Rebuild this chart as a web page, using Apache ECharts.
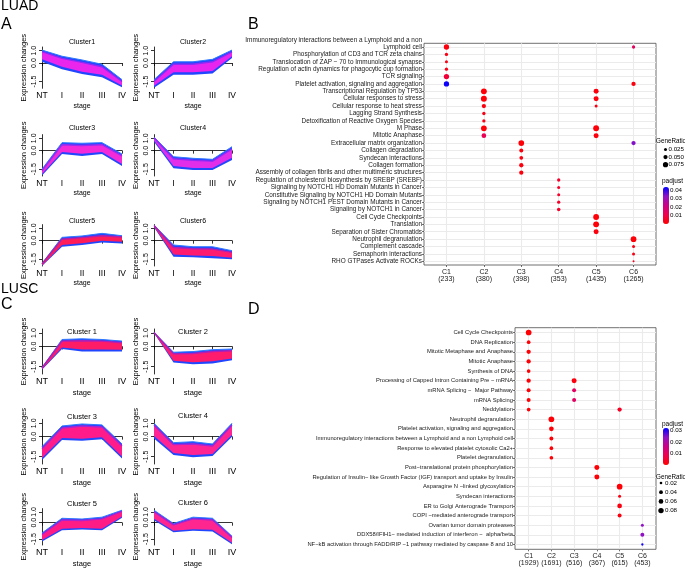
<!DOCTYPE html>
<html><head><meta charset="utf-8">
<script src="https://cdn.jsdelivr.net/npm/echarts@6/dist/echarts.min.js"></script>
<style>html,body{margin:0;padding:0;background:#fff}#c{width:685px;height:569px}</style>
</head><body><div id="c"></div>
<script>
// ---------- DATA ----------
const stages = ['NT', 'I', 'II', 'III', 'IV'];
const luadTitles = ['Cluster1', 'Cluster2', 'Cluster3', 'Cluster4', 'Cluster5', 'Cluster6'];
const luscTitles = ['Cluster 1', 'Cluster 2', 'Cluster 3', 'Cluster 4', 'Cluster 5', 'Cluster 6'];
const yTicks = [-1.5, 0, 1];

// LUAD envelopes (outer = full spread, inner = dense core)
const luadOuterHi = [
  [1.05, 0.55, 0.25, -0.1, -1.35],
  [-1.35, 0.1, 0.1, 0.3, 1.05],
  [-1.5, 0.65, 0.6, 0.65, -0.27],
  [1.1, -0.49, -0.62, -0.7, 0.32],
  [-1.84, 0.27, 0.38, 0.59, 0.4],
  [1.27, -0.35, -0.49, -0.49, -0.81]
];
const luadOuterLo = [
  [0.1, -0.5, -0.9, -1.15, -1.97],
  [-2.0, -0.95, -0.95, -0.85, 0.4],
  [-2.0, -0.27, -0.43, -0.27, -1.24],
  [0.73, -1.43, -1.57, -1.57, -0.76],
  [-2.05, -0.49, -0.35, -0.14, -0.22],
  [1.08, -1.3, -1.35, -1.43, -1.51]
];
const luadInnerHi = [
  [0.92, 0.38, 0.05, -0.3, -1.5],
  [-1.5, -0.1, -0.1, 0.1, 0.9],
  [-1.62, 0.48, 0.42, 0.48, -0.42],
  [1.04, -0.65, -0.78, -0.85, 0.15],
  [-1.88, 0.12, 0.25, 0.4, 0.3],
  [1.23, -0.55, -0.65, -0.68, -0.95]
];
const luadInnerLo = [
  [0.3, -0.3, -0.7, -0.95, -1.82],
  [-1.85, -0.75, -0.75, -0.65, 0.55],
  [-1.88, -0.1, -0.25, -0.1, -1.08],
  [0.82, -1.25, -1.4, -1.4, -0.58],
  [-2.0, -0.35, -0.2, 0.0, -0.08],
  [1.12, -1.12, -1.2, -1.25, -1.38]
];
// LUSC envelopes
const luscOuterHi = [
  [-1.57, 0.52, 0.57, 0.52, 0.4],
  [1.05, -0.43, -0.38, -0.24, -0.19],
  [-0.75, 0.8, 0.95, 0.88, -0.55],
  [1.0, -0.45, -0.38, -0.55, 1.0],
  [-0.95, 0.41, 0.34, 0.51, 1.15],
  [1.15, -0.07, 0.51, 0.41, -1.24]
];
const luscOuterLo = [
  [-1.74, -0.19, -0.38, -0.38, -0.38],
  [1.0, -1.19, -1.33, -1.26, -1.02],
  [-1.75, -0.25, -0.3, -0.2, -1.63],
  [-0.13, -1.38, -1.55, -1.45, 0.0],
  [-1.73, -0.7, -0.63, -0.7, 0.46],
  [0.22, -0.88, -0.75, -0.8, -1.97]
];
const luscInnerHi = [
  [-1.6, 0.4, 0.42, 0.4, 0.28],
  [1.04, -0.55, -0.52, -0.38, -0.32],
  [-0.9, 0.65, 0.8, 0.72, -0.7],
  [0.85, -0.6, -0.55, -0.7, 0.85],
  [-1.08, 0.25, 0.2, 0.35, 1.05],
  [1.0, -0.2, 0.35, 0.25, -1.36]
];
const luscInnerLo = [
  [-1.7, -0.07, -0.22, -0.22, -0.25],
  [1.01, -1.07, -1.18, -1.1, -0.9],
  [-1.6, -0.1, -0.15, -0.05, -1.48],
  [0.05, -1.22, -1.38, -1.3, 0.15],
  [-1.6, -0.55, -0.48, -0.55, 0.58],
  [0.36, -0.75, -0.6, -0.65, -1.85]
];

// Panel B (LUAD enrichment)
const bTerms = [
  'Immunoregulatory interactions between a Lymphoid and a non\nLymphoid cell\n',
  'Phosphorylation of CD3 and TCR zeta chains',
  'Translocation of ZAP − 70 to Immunological synapse',
  'Regulation of actin dynamics for phagocytic cup formation',
  'TCR signaling',
  'Platelet activation, signaling and aggregation',
  'Transcriptional Regulation by TP53',
  'Cellular responses to stress',
  'Cellular response to heat stress',
  'Lagging Strand Synthesis',
  'Detoxification of Reactive Oxygen Species',
  'M Phase',
  'Mitotic Anaphase',
  'Extracellular matrix organization',
  'Collagen degradation',
  'Syndecan interactions',
  'Collagen formation',
  'Assembly of collagen fibrils and other multimeric structures',
  'Regulation of cholesterol biosynthesis by SREBP (SREBF)',
  'Signaling by NOTCH1 HD Domain Mutants in Cancer',
  'Constitutive Signaling by NOTCH1 HD Domain Mutants',
  'Signaling by NOTCH1 PEST Domain Mutants in Cancer',
  'Signaling by NOTCH1 in Cancer',
  'Cell Cycle Checkpoints',
  'Translation',
  'Separation of Sister Chromatids',
  'Neutrophil degranulation',
  'Complement cascade',
  'Semaphorin interactions',
  'RHO GTPases Activate ROCKs'
];
const bClusters = ['C1', 'C2', 'C3', 'C4', 'C5', 'C6'];
const bCounts = [233, 380, 398, 353, 1435, 1265];
// [term row, cluster column, GeneRatio, p.adjust]
const bPoints = [
  [1,1,0.078,0.002],[1,6,0.030,0.014],
  [2,1,0.030,0.003],[3,1,0.025,0.003],[4,1,0.030,0.003],[5,1,0.078,0.008],
  [6,1,0.078,0.043],[6,6,0.051,0.002],
  [7,2,0.095,0.001],[7,5,0.069,0.002],
  [8,2,0.098,0.001],[8,5,0.069,0.002],
  [9,2,0.051,0.002],[9,5,0.025,0.003],
  [10,2,0.030,0.003],[11,2,0.030,0.003],
  [12,2,0.090,0.001],[12,5,0.095,0.001],
  [13,2,0.061,0.012],[13,5,0.069,0.002],
  [14,3,0.090,0.001],[14,6,0.051,0.034],
  [15,3,0.044,0.002],[16,3,0.038,0.002],[17,3,0.051,0.002],[18,3,0.051,0.002],
  [19,4,0.030,0.006],[20,4,0.025,0.006],[21,4,0.025,0.006],[22,4,0.030,0.006],[23,4,0.034,0.006],
  [24,5,0.095,0.001],[25,5,0.095,0.001],[26,5,0.069,0.002],
  [27,6,0.090,0.001],[28,6,0.025,0.003],[29,6,0.025,0.003],[30,6,0.011,0.004]
];
const bRatioLegend = [0.025, 0.050, 0.075];
const bPadjTicks = [0.04, 0.03, 0.02, 0.01];

// Panel D (LUSC enrichment)
const dTerms = [
  'Cell Cycle Checkpoints',
  'DNA Replication',
  'Mitotic Metaphase and Anaphase',
  'Mitotic Anaphase',
  'Synthesis of DNA',
  'Processing of Capped Intron Containing Pre − mRNA',
  'mRNA Splicing −  Major Pathway',
  'mRNA Splicing',
  'Neddylation',
  'Neutrophil degranulation',
  'Platelet activation, signaling and aggregation',
  'Immunoregulatory interactions between a Lymphoid and a non Lymphoid cell',
  'Response to elevated platelet cytosolic Ca2+',
  'Platelet degranulation',
  'Post−translational protein phosphorylation',
  'Regulation of Insulin− like Growth Factor (IGF) transport and uptake by Insulin',
  'Asparagine N −linked glycosylation',
  'Syndecan interactions',
  'ER to Golgi Anterograde Transport',
  'COPI −mediated anterograde transport',
  'Ovarian tumor domain proteases',
  'DDX58/IFIH1− mediated induction of interferon −  alpha/beta',
  'NF−kB activation through FADD/RIP −1 pathway mediated by caspase 8 and 10'
];
const dClusters = ['C1', 'C2', 'C3', 'C4', 'C5', 'C6'];
const dCounts = [1929, 1691, 516, 367, 615, 453];
const dPoints = [
  [1,1,0.090,0.0008],[2,1,0.038,0.001],[3,1,0.051,0.001],[4,1,0.051,0.001],[5,1,0.038,0.001],
  [6,1,0.051,0.001],[6,3,0.069,0.002],
  [7,1,0.044,0.001],[7,3,0.044,0.011],
  [8,1,0.044,0.001],[8,3,0.044,0.011],
  [9,1,0.038,0.001],[9,5,0.051,0.004],
  [10,2,0.090,0.001],[11,2,0.061,0.001],[12,2,0.044,0.001],[13,2,0.038,0.001],[14,2,0.038,0.001],
  [15,4,0.069,0.001],[16,4,0.069,0.001],
  [17,5,0.090,0.001],[18,5,0.025,0.002],[19,5,0.061,0.002],[20,5,0.044,0.002],
  [21,6,0.025,0.024],[22,6,0.044,0.024],[23,6,0.015,0.031]
];
const dRatioLegend = [0.02, 0.04, 0.06, 0.08];
const dPadjTicks = [0.03, 0.02, 0.01];

// ---------- STYLE / LAYOUT ----------
const NARROW = "'Liberation Sans Narrow','Arial Narrow','Liberation Sans',sans-serif";
const SANS = "'Liberation Sans',Arial,sans-serif";
const BLUE = '#2146ff';
const BLUE_EDGE = '#2f78ff';
const luadInnerColors = ['#ea25ec', '#e825ee', '#f22ad8', '#e22ee8', '#ff1c58', '#ff1c70'];
const luadMidColors = ['#8a2cf6', '#8a2cf6', '#9a2cf0', '#8a2cf6', '#b41ea8', '#b41eb0'];
const luscInnerColors = ['#ff1c66', '#ff1c6c', '#ff1c8a', '#ff2492', '#ff1c84', '#ff2690'];
const luscMidColors = ['#b01eb8', '#b01eb8', '#a824d0', '#a824d0', '#a824d0', '#a824d0'];
const padjColors = ['#ff0000', '#ef004e', '#cc0088', '#9012c4', '#0000ff'];
const smallLayout = [
  [42, 47, 80, 41.3], [154, 47, 78, 41.3],
  [42, 134.6, 80, 41.4], [154, 134.6, 78, 41.4],
  [42, 224.6, 80, 41.4], [154, 224.6, 78, 41.4],
  [42, 329, 80, 45], [154, 329, 78, 45],
  [42, 419.3, 80, 44.7], [154, 419.3, 78, 44.7],
  [42, 508.6, 80, 45.4], [154, 508.6, 78, 45.4]
];
const titleY = [42, 42, 128, 128, 221, 221, 332, 332, 416.5, 415.5, 503.5, 503];
const ratioSize = r => 19 * Math.sqrt(r);

const grids = [], xAxes = [], yAxes = [], series = [], graphics = [];

function addBand(k, lo, hi, color, stroke, strokeW, tag) {
  const st = 'st' + k + tag;
  series.push({type: 'line', xAxisIndex: k, yAxisIndex: k, stack: st, stackStrategy: 'all',
    data: lo, symbol: 'none', lineStyle: {width: 0, opacity: 0}, silent: true, animation: false});
  series.push({type: 'line', xAxisIndex: k, yAxisIndex: k, stack: st, stackStrategy: 'all',
    data: hi.map((h, i) => +(h - lo[i]).toFixed(4)), symbol: 'none',
    lineStyle: {width: strokeW, color: stroke}, areaStyle: {color: color, opacity: 1},
    silent: true, animation: false});
}

const outerHi = luadOuterHi.concat(luscOuterHi);
const outerLo = luadOuterLo.concat(luscOuterLo);
const innerHi = luadInnerHi.concat(luscInnerHi);
const innerLo = luadInnerLo.concat(luscInnerLo);
const innerColors = luadInnerColors.concat(luscInnerColors);
const midColors = luadMidColors.concat(luscMidColors);
const titles = luadTitles.concat(luscTitles);

for (let k = 0; k < 12; k++) {
  const [l, t, w, h] = smallLayout[k];
  const lusc = k >= 6;
  grids.push({left: l, top: t, width: w, height: h});
  xAxes.push({gridIndex: k, type: 'category', data: stages, boundaryGap: false,
    axisLine: {lineStyle: {color: '#000', width: 0.8}},
    axisTick: {length: 3, lineStyle: {color: '#000', width: 0.8}},
    axisLabel: {interval: 0, fontSize: lusc ? 9 : 8.5, color: '#000', margin: 3, fontFamily: lusc ? SANS : NARROW},
    splitLine: {show: false},
    name: 'stage', nameLocation: 'middle', nameGap: lusc ? 15 : 14,
    nameTextStyle: {fontSize: lusc ? 7.5 : 7, color: '#000', fontFamily: lusc ? SANS : NARROW}});
  yAxes.push({gridIndex: k, type: 'value', min: -2.05, max: 1.3,
    axisLine: {show: true, lineStyle: {color: '#000', width: 0.8}},
    axisTick: {show: true, length: 3, customValues: yTicks, lineStyle: {color: '#000', width: 0.8}},
    axisLabel: {customValues: yTicks, formatter: v => Number(v).toFixed(1), rotate: 90,
      fontSize: 7, color: '#000', margin: 4, fontFamily: lusc ? SANS : NARROW},
    splitLine: {show: false},
    name: 'Expression changes', nameLocation: 'middle', nameGap: 14,
    nameTextStyle: {fontSize: 7.5, color: '#000', fontFamily: lusc ? SANS : NARROW}});
  addBand(k, outerLo[k], outerHi[k], BLUE, BLUE_EDGE, 1, 'o');
  addBand(k, innerLo[k], innerHi[k], innerColors[k], midColors[k], 1.4, 'i');
  graphics.push({type: 'text', x: l + w / 2, y: titleY[k],
    style: {text: titles[k], fill: '#000', font: (lusc ? '7.5px ' + SANS : '7px ' + NARROW),
      align: 'center', verticalAlign: 'middle'}});
}

// ---------- dot plots ----------
function dotPanel(gi, layout, terms, clusters, counts, points, labelFont) {
  const [l, t, w, h] = layout;
  grids.push({left: l, top: t, width: w, height: h, show: true, borderColor: '#4d4d4d', borderWidth: 0.8, backgroundColor: '#fff'});
  const colVals = clusters.map((c, i) => i + 1);
  xAxes.push({gridIndex: gi, type: 'value', min: 0.4, max: clusters.length + 0.6,
    axisLine: {show: false}, splitLine: {show: false},
    axisTick: {show: true, customValues: colVals, length: 2, lineStyle: {color: '#333', width: 0.7}},
    axisLabel: {customValues: colVals, showMinLabel: true, showMaxLabel: true,
      formatter: v => clusters[Math.round(v) - 1] + '\n(' + counts[Math.round(v) - 1] + ')',
      fontSize: 7, lineHeight: 7.5, color: '#1a1a1a', margin: 3, fontFamily: NARROW}});
  yAxes.push({gridIndex: gi, type: 'category', data: terms, inverse: true, boundaryGap: true,
    axisLine: {show: false}, splitLine: {show: false},
    axisTick: {show: true, alignWithLabel: true, interval: 0, length: 2, lineStyle: {color: '#333', width: 0.7}},
    axisLabel: {interval: 0, fontSize: labelFont, lineHeight: 6.8, color: '#1a1a1a', margin: 2, fontFamily: NARROW}});
  series.push({type: 'scatter', xAxisIndex: gi, yAxisIndex: gi, data: [], silent: true, z: 1, animation: false,
    markLine: {symbol: ['none', 'none'], silent: true, animation: false, z: 1, label: {show: false},
      emphasis: {disabled: true},
      lineStyle: {color: '#ebebeb', width: 1.1, type: 'solid'},
      data: terms.map(r => ({yAxis: r})).concat(colVals.map(c => ({xAxis: c})))}});
  const idx = series.length;
  series.push({type: 'scatter', xAxisIndex: gi, yAxisIndex: gi, z: 5, animation: false,
    data: points.map(p => [p[1], terms[p[0] - 1], p[2], p[3]]),
    symbolSize: v => ratioSize(v[2]), itemStyle: {opacity: 1}});
  return idx;
}
const bIdx = dotPanel(12, [424, 43.3, 232, 221.7], bTerms, bClusters, bCounts, bPoints, 6.4);
const dIdx = dotPanel(13, [515, 327.7, 141, 221.6], dTerms, dClusters, dCounts, dPoints, 5.8);

// ---------- legends ----------
const bBar = {top: 187, h: 37, min: 0, max: 0.044};
const dBar = {top: 428, h: 37, min: 0.0005, max: 0.0318};
const visualMaps = [
  {type: 'continuous', seriesIndex: bIdx, dimension: 3, min: bBar.min, max: bBar.max,
    inRange: {color: padjColors}, left: 663, top: bBar.top, itemWidth: 6, itemHeight: bBar.h,
    padding: 0, calculable: false, text: null, hoverLink: false, orient: 'vertical'},
  {type: 'continuous', seriesIndex: dIdx, dimension: 3, min: dBar.min, max: dBar.max,
    inRange: {color: padjColors}, left: 663, top: dBar.top, itemWidth: 6, itemHeight: dBar.h,
    padding: 0, calculable: false, text: null, hoverLink: false, orient: 'vertical'}
];
function txt(x, y, s, font, align, fill) {
  graphics.push({type: 'text', x: x, y: y, style: {text: s, font: font, fill: fill || '#000',
    align: align || 'left', verticalAlign: 'middle'}});
}
// B legend
txt(656, 141.5, 'GeneRatio', '6.3px ' + NARROW);
bRatioLegend.forEach((r, i) => {
  const y = 149.5 + i * 7.6;
  graphics.push({type: 'circle', shape: {cx: 665.5, cy: y, r: ratioSize(r) / 2}, style: {fill: '#000'}});
  txt(668.5, y, r.toFixed(3), '6.2px ' + NARROW);
});
txt(662, 181, 'padjust', '6.5px ' + NARROW);
bPadjTicks.forEach(v => {
  const y = bBar.top + (bBar.max - v) / (bBar.max - bBar.min) * bBar.h;
  txt(670, y, v.toFixed(2), '6.2px ' + NARROW);
});
// D legend
txt(662, 424, 'padjust', '6.5px ' + NARROW);
dPadjTicks.forEach(v => {
  const y = dBar.top + (dBar.max - v) / (dBar.max - dBar.min) * dBar.h;
  txt(670, y, v.toFixed(2), '6.2px ' + NARROW);
});
txt(656, 477, 'GeneRatio', '6.3px ' + NARROW);
dRatioLegend.forEach((r, i) => {
  const y = 483 + i * 9.2;
  graphics.push({type: 'circle', shape: {cx: 661, cy: y, r: ratioSize(r) / 2}, style: {fill: '#000'}});
  txt(665, y, r.toFixed(2), '6.2px ' + NARROW);
});
// panel labels
txt(1, 6, 'LUAD', '14px ' + SANS);
txt(1, 25, 'A', '16px ' + SANS);
txt(248, 25, 'B', '16px ' + SANS);
txt(1, 289, 'LUSC', '14px ' + SANS);
txt(1, 305, 'C', '16px ' + SANS);
txt(248, 310, 'D', '16px ' + SANS);

const chart = echarts.init(document.getElementById('c'), null, {renderer: 'canvas'});
chart.setOption({
  animation: false,
  backgroundColor: '#fff',
  grid: grids, xAxis: xAxes, yAxis: yAxes, series: series,
  visualMap: visualMaps,
  graphic: graphics
});
</script></body></html>
